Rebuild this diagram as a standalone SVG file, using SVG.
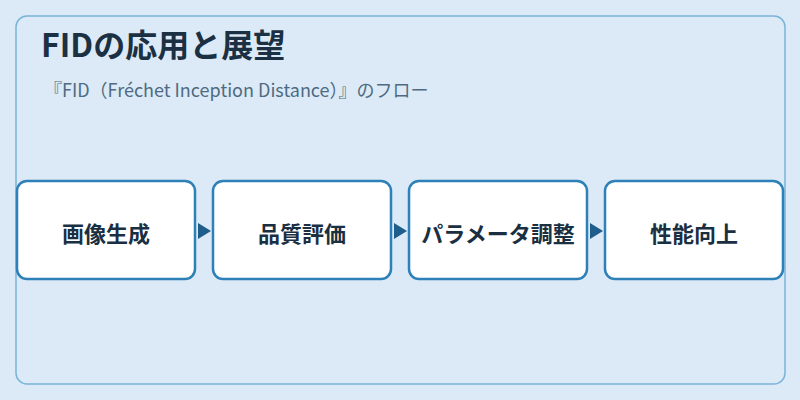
<svg xmlns="http://www.w3.org/2000/svg" width="800" height="400" viewBox="0 0 800 400">
<defs>
<style>
.node rect{fill:#ffffff;stroke:#2e80b8;stroke-width:2.5}
.node text{font-family:"Noto Sans CJK JP","Noto Sans",sans-serif;font-weight:700;font-size:22px;fill:#1b2f42;text-anchor:middle}
.conn polygon{fill:#1f5d8c}
</style>
</defs>
<rect x="0" y="0" width="800" height="400" fill="#dbeaf6"/>
<rect x="16" y="16" width="769" height="368" rx="11" fill="#dbeaf6" stroke="#7ab3d9" stroke-width="1.5"/>
<text x="41" y="57" font-family="'Noto Sans CJK JP','Noto Sans',sans-serif" font-weight="700" font-size="32" fill="#1b3042">FIDの応用と展望</text>
<text x="44" y="97" font-family="'Noto Sans CJK JP','Noto Sans',sans-serif" font-size="18" fill="#4f6a82">『FID（Fréchet Inception Distance）』のフロー</text>
<g id="connectors" class="conn">
<polygon points="198,223 211,231 198,239"/>
<polygon points="394,223 407,231 394,239"/>
<polygon points="590,223 603,231 590,239"/>
</g>
<g id="node1" class="node"><rect x="17" y="181" width="178" height="98" rx="10"/><text x="106" y="242">画像生成</text></g>
<g id="node2" class="node"><rect x="213" y="181" width="178" height="98" rx="10"/><text x="302" y="242">品質評価</text></g>
<g id="node3" class="node"><rect x="409" y="181" width="178" height="98" rx="10"/><text x="498" y="242">パラメータ調整</text></g>
<g id="node4" class="node"><rect x="605" y="181" width="178" height="98" rx="10"/><text x="694" y="242">性能向上</text></g>
</svg>
